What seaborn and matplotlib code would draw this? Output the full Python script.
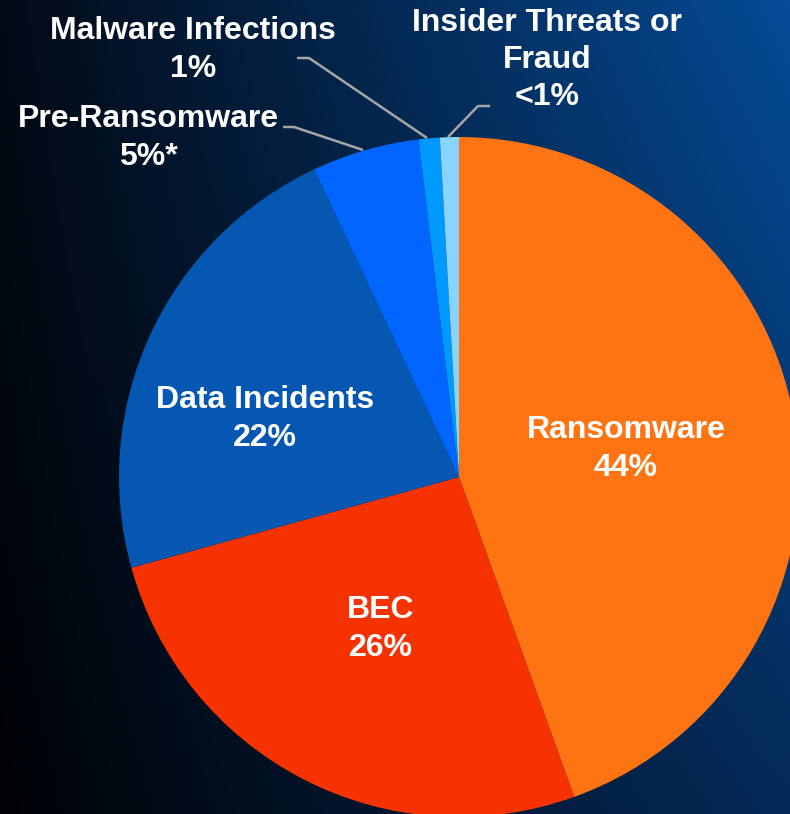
import numpy as np
import matplotlib
matplotlib.use("Agg")
import matplotlib.pyplot as plt
import seaborn as sns

# ---- data ----
categories = ["Ransomware", "BEC", "Data Incidents", "Pre-Ransomware",
              "Malware Infections", "Insider Threats or Fraud"]
values = [44.5, 26.2, 22.3, 5.1, 1.0, 0.9]
pct_labels = ["44%", "26%", "22%", "5%*", "1%", "<1%"]
display_names = ["Ransomware", "BEC", "Data Incidents", "Pre-Ransomware",
                 "Malware Infections", "Insider Threats or\nFraud"]
colors = ["#FF7412", "#F63300", "#0657B2", "#0066FF", "#0099FF", "#88D4FF"]

sns.set_theme(style="white")
plt.rcParams['font.family'] = ['Liberation Sans', 'DejaVu Sans']

W, H = 790, 814
fig = plt.figure(figsize=(W / 100, H / 100), dpi=100)

# background gradient (bilinear between corners)
bg = fig.add_axes([0, 0, 1, 1])
bg.set_axis_off()
tl = np.array([0x03, 0x0A, 0x16]) / 255
tr = np.array([0x05, 0x4B, 0x96]) / 255
bl = np.array([0x00, 0x02, 0x05]) / 255
br = np.array([0x05, 0x2A, 0x58]) / 255
xs = np.linspace(0, 1, 200)[None, :, None]
ys = np.linspace(0, 1, 200)[:, None, None]  # 0 top, 1 bottom
top = tl * (1 - xs) + tr * xs
bot = bl * (1 - xs) + br * xs
img = top * (1 - ys) + bot * ys
bg.imshow(img, extent=[0, 1, 0, 1], aspect='auto', origin='upper')
bg.set_xlim(0, 1)
bg.set_ylim(0, 1)

ax = fig.add_axes([0, 0, 1, 1])
ax.set_axis_off()
ax.patch.set_alpha(0)
cx, cy, R = 459, H - 477, 340
ax.pie(values, colors=colors, startangle=90, counterclock=False,
       center=(cx, cy), radius=R, wedgeprops=dict(linewidth=0))
ax.set_xlim(0, W)
ax.set_ylim(0, H)
ax.set_aspect('equal')

fs = 23
txt = dict(color="white", fontsize=fs, fontweight="bold", ha="center",
           va="center", linespacing=1.32)

# inner labels (pixel coords from top)
inner = {0: (626, 449), 1: (381, 629), 2: (265, 419)}
for i, (x, y) in inner.items():
    ax.text(x, H - y, f"{display_names[i]}\n{pct_labels[i]}", **txt)

outer = {3: (148, 138), 4: (193, 50), 5: (547, 60)}
for i, (x, y) in outer.items():
    ax.text(x, H - y, f"{display_names[i]}\n{pct_labels[i]}", **txt)

# leader lines
lc = "#A6A6A6"
leaders = [
    [(283, 127), (294, 127), (363, 150)],
    [(297, 58), (309, 58), (427, 138)],
    [(490, 106), (478, 106), (448, 137)],
]
for pts in leaders:
    px = [p[0] for p in pts]
    py = [H - p[1] for p in pts]
    ax.plot(px, py, color=lc, lw=1.8, solid_capstyle='butt')

fig.savefig("out.png", dpi=100)
